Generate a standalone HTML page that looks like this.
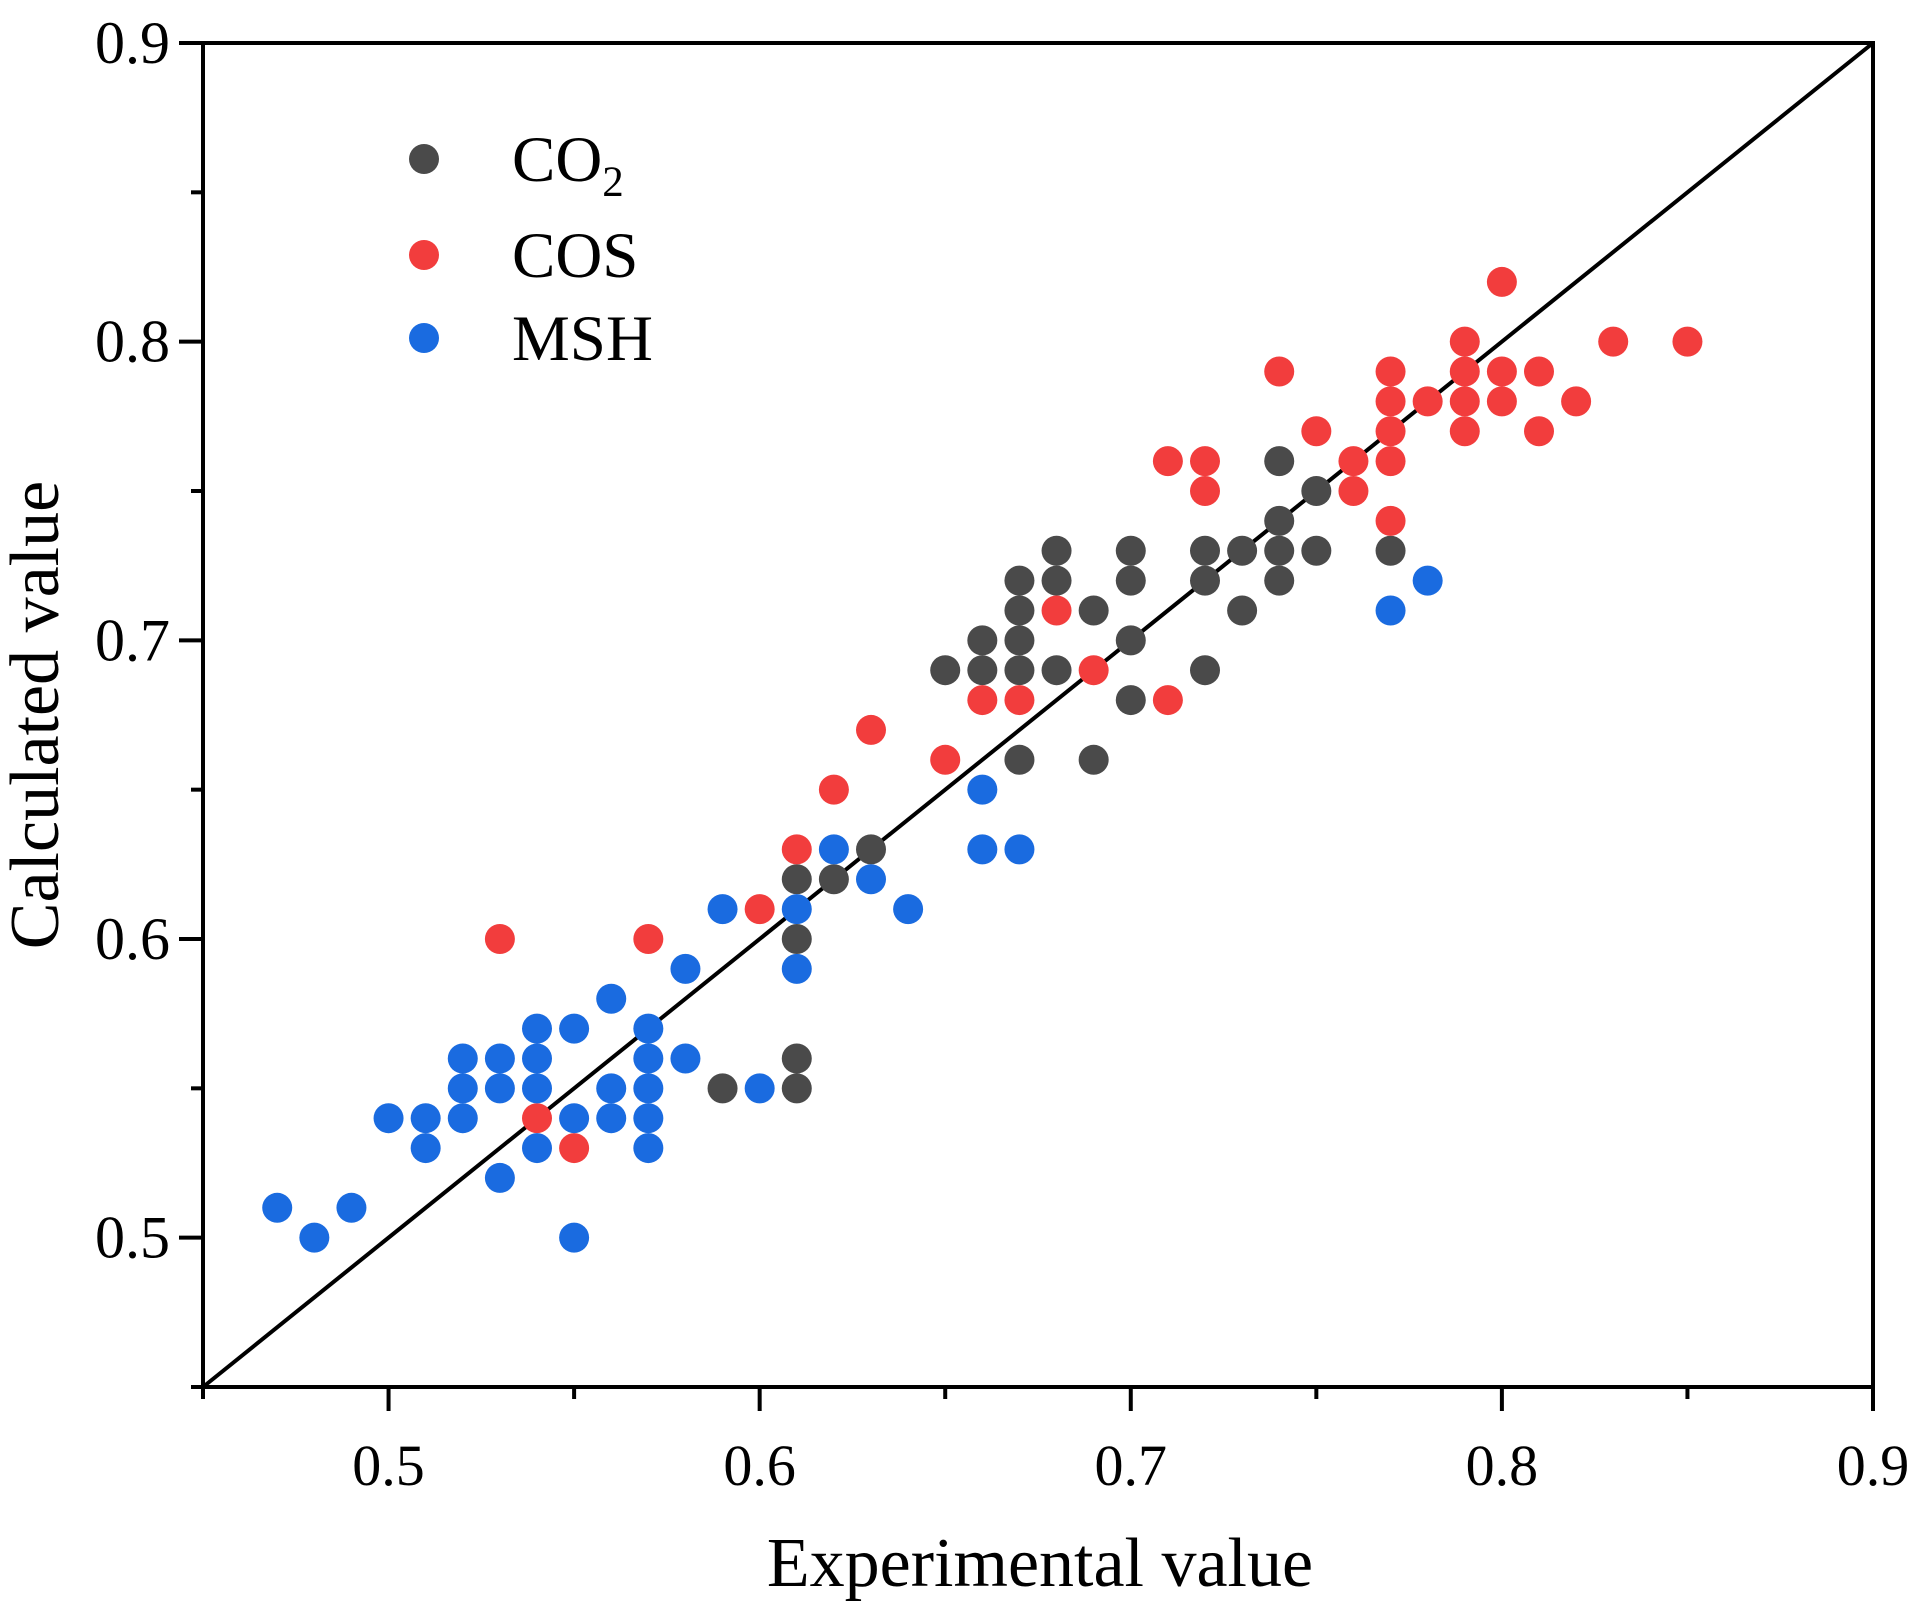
<!DOCTYPE html>
<html><head><meta charset="utf-8"><style>
html,body{margin:0;padding:0;background:#fff;}
svg{display:block;font-family:"Liberation Serif",serif;}
</style></head><body>
<svg id="chart" width="1922" height="1609" viewBox="0 0 1922 1609" xmlns="http://www.w3.org/2000/svg">
<g id="ticks"></g>
<line id="diag" stroke="#000" stroke-width="4"/>
<g id="points"></g>
<rect x="203" y="43" width="1670" height="1344" fill="none" stroke="#000" stroke-width="4"/>
<g>
<circle cx="424" cy="159" r="15" fill="#4a4a4a"/>
<text x="512" y="181" font-size="65">CO<tspan font-size="43" dy="15">2</tspan></text>
<circle cx="424" cy="255" r="15" fill="#f23d3d"/>
<text x="512" y="277" font-size="65">COS</text>
<circle cx="424" cy="338" r="15" fill="#1a6be0"/>
<text x="512" y="360" font-size="65">MSH</text>
</g>
<text x="1040" y="1586" font-size="70" text-anchor="middle">Experimental value</text>
<text transform="translate(58,715) rotate(-90)" font-size="70" text-anchor="middle">Calculated value</text>
</svg>
<script>
const xTickLabels=["0.5","0.6","0.7","0.8","0.9"];
const yTickLabels=["0.5","0.6","0.7","0.8","0.9"];
const co2X=[0.61,0.61,0.61,0.61,0.59,0.62,0.63,0.65,0.66,0.66,0.67,0.67,0.67,0.67,0.67,0.68,0.68,0.68,0.69,0.69,0.70,0.70,0.70,0.70,0.72,0.72,0.72,0.73,0.73,0.74,0.74,0.74,0.74,0.75,0.75,0.77];
const co2Y=[0.62,0.60,0.56,0.55,0.55,0.62,0.63,0.69,0.70,0.69,0.72,0.71,0.70,0.69,0.66,0.73,0.72,0.69,0.71,0.66,0.73,0.72,0.70,0.68,0.73,0.72,0.69,0.73,0.71,0.76,0.74,0.73,0.72,0.75,0.73,0.73];
const cosX=[0.53,0.57,0.54,0.55,0.60,0.61,0.62,0.63,0.65,0.66,0.67,0.68,0.69,0.71,0.71,0.72,0.72,0.74,0.75,0.76,0.76,0.77,0.77,0.77,0.77,0.77,0.78,0.79,0.79,0.79,0.79,0.80,0.80,0.80,0.81,0.81,0.82,0.83,0.85];
const cosY=[0.60,0.60,0.54,0.53,0.61,0.63,0.65,0.67,0.66,0.68,0.68,0.71,0.69,0.76,0.68,0.76,0.75,0.79,0.77,0.76,0.75,0.79,0.78,0.77,0.76,0.74,0.78,0.80,0.79,0.78,0.77,0.82,0.79,0.78,0.79,0.77,0.78,0.80,0.80];
const mshX=[0.47,0.48,0.49,0.50,0.51,0.51,0.52,0.52,0.52,0.53,0.53,0.53,0.54,0.54,0.54,0.54,0.55,0.55,0.55,0.56,0.56,0.56,0.57,0.57,0.57,0.57,0.57,0.58,0.58,0.59,0.60,0.61,0.61,0.62,0.63,0.64,0.66,0.66,0.67,0.77,0.78];
const mshY=[0.51,0.50,0.51,0.54,0.54,0.53,0.56,0.55,0.54,0.56,0.55,0.52,0.57,0.56,0.55,0.53,0.57,0.54,0.50,0.58,0.55,0.54,0.57,0.56,0.55,0.54,0.53,0.59,0.56,0.61,0.55,0.61,0.59,0.63,0.62,0.61,0.65,0.63,0.63,0.71,0.72];
const NS="http://www.w3.org/2000/svg";
const X0=203,X1=1873,Y0=1387,Y1=43,MIN=0.45,MAX=0.9;
function sx(v){return X0+(v-MIN)/(MAX-MIN)*(X1-X0);}
function sy(v){return Y0-(v-MIN)/(MAX-MIN)*(Y0-Y1);}
function mk(tag,attrs){const e=document.createElementNS(NS,tag);for(const k in attrs)e.setAttribute(k,attrs[k]);return e;}
const tg=document.getElementById('ticks');
for(let i=0;i<10;i++){
  const v=0.45+i*0.05;const major=i%2===1;const len=major?24:12;
  const tx=mk('line',{x1:sx(v),x2:sx(v),y1:Y0,y2:Y0+len,stroke:'#000','stroke-width':4});
  
  
  tg.appendChild(tx);
  const ty=mk('line',{x1:X0-len,x2:X0,y1:sy(v),y2:sy(v),stroke:'#000','stroke-width':4});
  
  
  tg.appendChild(ty);
}
xTickLabels.forEach(function(l){
  const t=mk('text',{x:sx(parseFloat(l)),y:1485,'font-size':58,'text-anchor':'middle'});
  
  
  t.textContent=l;tg.appendChild(t);
});
yTickLabels.forEach(function(l){
  const t=mk('text',{x:170,y:sy(parseFloat(l))+20,'font-size':60,'text-anchor':'end'});
  
  
  t.textContent=l;tg.appendChild(t);
});
const d=document.getElementById('diag');
d.setAttribute('x1',sx(MIN));d.setAttribute('y1',sy(MIN));d.setAttribute('x2',sx(MAX));d.setAttribute('y2',sy(MAX));
const pg=document.getElementById('points');
function series(xs,ys,color,name){
  for(let i=0;i<xs.length;i++){
    const c=mk('circle',{cx:sx(xs[i]),cy:sy(ys[i]),r:15,fill:color});
    
    
    pg.appendChild(c);
  }
}
series(co2X,co2Y,'#4a4a4a','co2-point');
series(cosX,cosY,'#f23d3d','cos-point');
series(mshX,mshY,'#1a6be0','msh-point');
</script>
</body></html>
